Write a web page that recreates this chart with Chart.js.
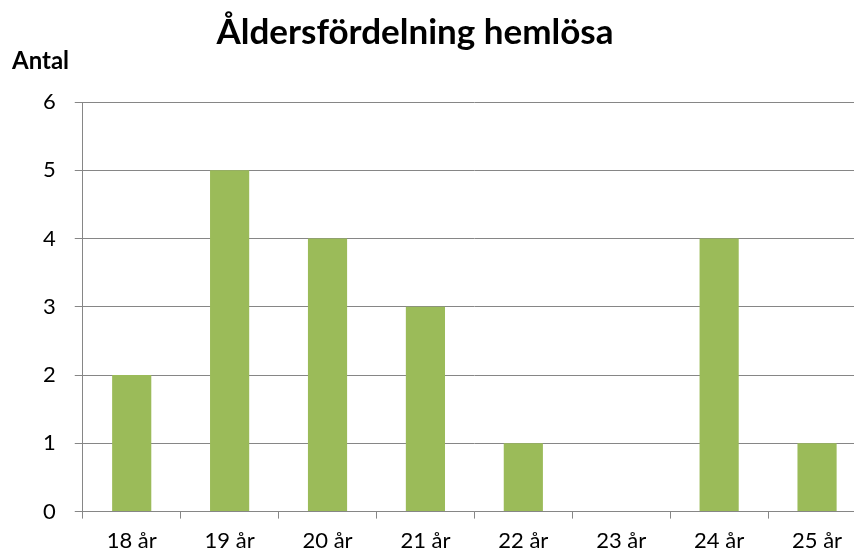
<!DOCTYPE html>
<html><head><meta charset="utf-8">
<script src="https://cdn.jsdelivr.net/npm/chart.js@4/dist/chart.umd.min.js"></script>
<style>html,body{margin:0;padding:0;background:#fff;overflow:hidden}#wrap{width:854px;height:557px;overflow:hidden}canvas{display:block}</style>
</head><body><div id="wrap"><canvas id="c" width="866" height="557"></canvas></div>
<script>
const chartTitle = "Åldersfördelning hemlösa";
const yAxisTitle = "Antal";
const categories = ["18 år","19 år","20 år","21 år","22 år","23 år","24 år","25 år"];
const counts = [2,5,4,3,1,0,4,1];
const yTicks = [0,1,2,3,4,5,6];

const FONT = "Lato, 'Open Sans', sans-serif";
const textPlugin = {
  id: 'texts',
  afterDraw(chart) {
    const ctx = chart.ctx;
    ctx.save();
    ctx.fillStyle = '#000';
    ctx.textBaseline = 'middle';
    ctx.textAlign = 'center';
    ctx.font = "bold 35px " + FONT;
    ctx.fillText(chartTitle, 415, 33);
    ctx.textAlign = 'left';
    ctx.font = "bold 24px " + FONT;
    ctx.fillText(yAxisTitle, 12, 61);
    ctx.restore();
  }
};

new Chart(document.getElementById('c'), {
  type: 'bar',
  data: { labels: categories, datasets: [{ data: counts, backgroundColor: '#9BBB59', categoryPercentage: 1, barPercentage: 0.40 }] },
  options: {
    responsive: false, animation: false, devicePixelRatio: 1,
    layout: { padding: { top: 102, left: 24, right: 0, bottom: -6 } },
    plugins: { legend: { display: false }, tooltip: { enabled: false } },
    scales: {
      x: {
        grid: { offset: true, drawOnChartArea: false, drawTicks: true, tickLength: 7, color: '#868686', lineWidth: 1 },
        border: { color: '#868686', width: 1 },
        ticks: { color: '#000', font: { family: FONT, size: 22 }, padding: 9 }
      },
      y: {
        min: 0, max: 6,
        afterBuildTicks(axis) { axis.ticks = yTicks.map(v => ({ value: v })); },
        grid: { color: '#868686', lineWidth: 1, tickLength: 8 },
        border: { color: '#868686', width: 1 },
        ticks: { color: '#000', font: { family: FONT, size: 22 }, padding: 19 }
      }
    }
  },
  plugins: [textPlugin]
});
</script></body></html>
